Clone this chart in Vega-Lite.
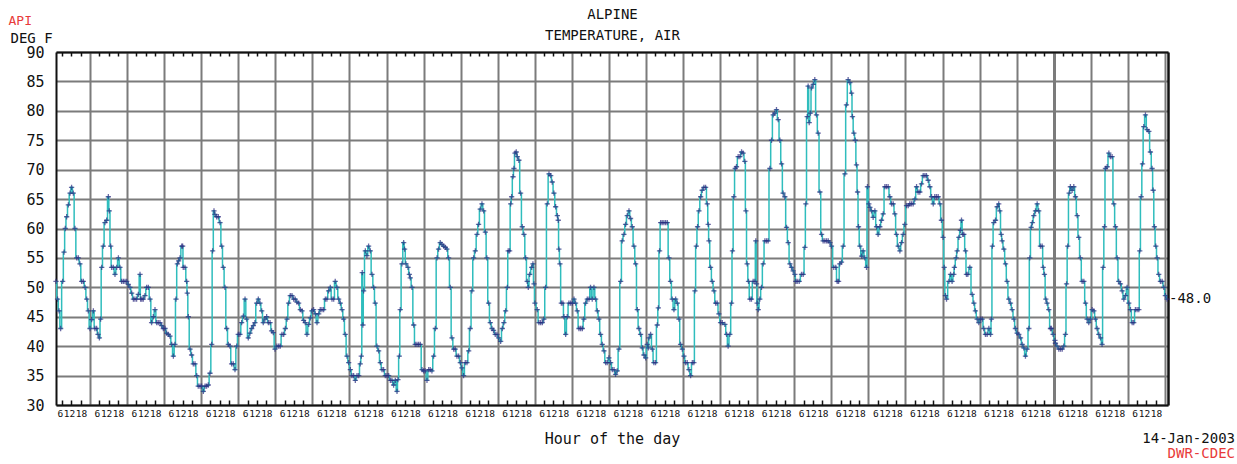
{
  "$schema": "https://vega.github.io/schema/vega-lite/v6.json",
  "width": 1112,
  "height": 353,
  "autosize": {"type": "none"},
  "padding": {"left": 56, "top": 52, "right": 69, "bottom": 59},
  "background": "white",
  "config": {
    "view": {"stroke": null},
    "font": "DejaVu Sans Mono",
    "axis": {"labelFont": "DejaVu Sans Mono", "titleFont": "DejaVu Sans Mono", "titleFontWeight": "normal", "labelColor": "#111111", "titleColor": "#111111"}
  },
  "title": {
    "text": "14-Jan-2003",
    "subtitle": "DWR-CDEC",
    "orient": "bottom",
    "anchor": "end",
    "frame": "group",
    "dx": 67,
    "offset": -15,
    "fontSize": 14,
    "fontWeight": "normal",
    "color": "#111111",
    "subtitleFontSize": 14,
    "subtitleColor": "#e83a3a",
    "subtitlePadding": 1,
    "font": "DejaVu Sans Mono",
    "subtitleFont": "DejaVu Sans Mono",
    "limit": 0
  },
  "data": {
    "values": [
      {"h":2,"t":51},{"h":3,"t":48},{"h":4,"t":46},{"h":5,"t":43},{"h":6.3,"t":51},{"h":7.2,"t":56},{"h":8,"t":60},{"h":8.9,"t":62},{"h":10,"t":64},{"h":11.1,"t":66},{"h":12.1,"t":67},{"h":13.2,"t":66},{"h":14.3,"t":60},{"h":15.4,"t":55},{"h":16.5,"t":55},{"h":17.5,"t":54},{"h":18.6,"t":51},{"h":19.7,"t":51},{"h":20.8,"t":50},{"h":21.9,"t":48},{"h":22.9,"t":46},{"h":24,"t":43},
      {"h":25.1,"t":44.5},{"h":26.2,"t":46},{"h":27.2,"t":43},{"h":28.3,"t":43},{"h":29.2,"t":42},{"h":30.1,"t":41.4},{"h":30.9,"t":44.6},{"h":31.6,"t":53.4},{"h":32.6,"t":57},{"h":33.7,"t":61},{"h":34.8,"t":61.4},{"h":35.9,"t":65.4},{"h":36.5,"t":63},{"h":37.4,"t":57},{"h":38,"t":53.4},{"h":39.1,"t":53.4},{"h":40.2,"t":52.2},{"h":41.3,"t":53.4},{"h":42.4,"t":55},{"h":43.4,"t":53.4},{"h":44.5,"t":51},{"h":45.6,"t":51},{"h":46.7,"t":51},{"h":47.8,"t":51},
      {"h":48.8,"t":50.5},{"h":49.9,"t":50},{"h":51,"t":49},{"h":52.1,"t":48},{"h":53.1,"t":48},{"h":54.2,"t":48},{"h":55.3,"t":48.8},{"h":56.4,"t":52.2},{"h":56.8,"t":48},{"h":57.6,"t":48},{"h":58.5,"t":48},{"h":59.6,"t":48.6},{"h":60.7,"t":50},{"h":61.8,"t":50},{"h":62.9,"t":48},{"h":63.9,"t":44},{"h":65,"t":45},{"h":66.1,"t":46.2},{"h":67.2,"t":44},{"h":68.2,"t":44},{"h":69.3,"t":44},{"h":70.4,"t":43.5},{"h":71.5,"t":43},
      {"h":72.6,"t":43},{"h":73.6,"t":42.2},{"h":74.7,"t":42},{"h":75.8,"t":41.7},{"h":76.9,"t":40.3},{"h":78,"t":38.3},{"h":79,"t":40.3},{"h":79.7,"t":48},{"h":80.6,"t":54},{"h":81.4,"t":54.5},{"h":82.3,"t":55},{"h":83.4,"t":57},{"h":84,"t":57},{"h":84.4,"t":53.4},{"h":85.5,"t":53.4},{"h":86.6,"t":51},{"h":87,"t":49},{"h":87.7,"t":45},{"h":88.8,"t":39.5},{"h":89.8,"t":38.5},{"h":90.9,"t":37},{"h":92,"t":37},{"h":93.1,"t":35},{"h":94.1,"t":33.2},{"h":95.2,"t":33.2},{"h":96.3,"t":33.2},
      {"h":97.4,"t":32.3},{"h":98.5,"t":33.2},{"h":99.5,"t":33.2},{"h":100.6,"t":33.4},{"h":101.7,"t":35.4},{"h":102.8,"t":40.3},{"h":103.4,"t":56.2},{"h":104.3,"t":63},{"h":104.9,"t":62.4},{"h":106,"t":62},{"h":107.1,"t":62},{"h":108.2,"t":61},{"h":109.3,"t":57},{"h":110.3,"t":53.4},{"h":111.4,"t":50},{"h":112.5,"t":43},{"h":113.6,"t":40.3},{"h":114.6,"t":40},{"h":115.7,"t":37},{"h":116.8,"t":37},{"h":117.9,"t":36},{"h":119,"t":40},{"h":120,"t":42},
      {"h":121.1,"t":42},{"h":122.2,"t":44},{"h":123.3,"t":45.1},{"h":124.4,"t":48},{"h":125.4,"t":44.6},{"h":126.5,"t":41.4},{"h":127.6,"t":42.2},{"h":128.7,"t":43},{"h":129.8,"t":43.5},{"h":130.8,"t":44},{"h":131.9,"t":47.3},{"h":133,"t":48},{"h":134.1,"t":47.3},{"h":135.2,"t":46},{"h":136.2,"t":44},{"h":137.3,"t":44.6},{"h":138.4,"t":45},{"h":139.5,"t":44},{"h":140.6,"t":44},{"h":141.6,"t":42.6},{"h":142.7,"t":42.3},{"h":143.8,"t":39.5},
      {"h":145,"t":40},{"h":146.2,"t":40},{"h":147.2,"t":40},{"h":148.3,"t":42},{"h":149.4,"t":42},{"h":150.5,"t":43},{"h":151.6,"t":44.6},{"h":152.6,"t":47.3},{"h":153.7,"t":48.6},{"h":154.8,"t":48.6},{"h":155.9,"t":48},{"h":156.9,"t":48},{"h":158,"t":47.5},{"h":159.1,"t":47.3},{"h":160.2,"t":46.2},{"h":161.3,"t":46},{"h":162.3,"t":44.4},{"h":163.4,"t":44},{"h":164.5,"t":42},{"h":165.6,"t":43.7},{"h":166.7,"t":44.8},{"h":167.7,"t":46},
      {"h":168.8,"t":46.2},{"h":169.9,"t":45.5},{"h":171,"t":44},{"h":172.1,"t":45.5},{"h":173.1,"t":46.2},{"h":174.2,"t":46.2},{"h":175.3,"t":46.2},{"h":176.4,"t":48},{"h":177.4,"t":48},{"h":178.5,"t":49.4},{"h":179.6,"t":50},{"h":180.7,"t":48},{"h":181.8,"t":48},{"h":182.8,"t":51},{"h":183.9,"t":50},{"h":185,"t":48},{"h":186.1,"t":47.3},{"h":187.2,"t":46.2},{"h":188.2,"t":44.6},{"h":189.3,"t":42},{"h":190.4,"t":38.3},{"h":191.5,"t":37.2},{"h":192.6,"t":36},{"h":193.6,"t":35},
      {"h":194.7,"t":35},{"h":195.8,"t":34.2},{"h":196.9,"t":35},{"h":198,"t":35},{"h":199,"t":37},{"h":199.7,"t":38.3},{"h":200.3,"t":52.5},{"h":200.7,"t":43.6},{"h":201.2,"t":49.4},{"h":202.3,"t":56.2},{"h":203.3,"t":55.4},{"h":204.4,"t":57},{"h":205.5,"t":56.2},{"h":206.6,"t":52.2},{"h":207.7,"t":50},{"h":208.7,"t":47.3},{"h":209.8,"t":40},{"h":210.9,"t":39.2},{"h":212,"t":37.2},{"h":213.1,"t":36},{"h":214.1,"t":36},{"h":215.2,"t":35},{"h":216.3,"t":35},{"h":217.4,"t":35},
      {"h":218.5,"t":34.2},{"h":219.5,"t":34.2},{"h":220.6,"t":33.4},{"h":221.7,"t":34.2},{"h":222.8,"t":32.3},{"h":223.4,"t":34.3},{"h":224.3,"t":38.3},{"h":224.9,"t":46.2},{"h":226,"t":54},{"h":227.1,"t":57.6},{"h":227.7,"t":56.5},{"h":228.6,"t":54},{"h":229.9,"t":53.4},{"h":230.8,"t":52.2},{"h":231.4,"t":51.6},{"h":232.5,"t":50},{"h":233.6,"t":43.6},{"h":234.6,"t":40.3},{"h":235.7,"t":40.3},{"h":236.8,"t":40.3},{"h":237.9,"t":40.3},{"h":239,"t":36},{"h":240,"t":35.8},{"h":241.1,"t":35.8},
      {"h":242.2,"t":34.2},{"h":243.3,"t":36},{"h":244.3,"t":36},{"h":245.4,"t":35.8},{"h":246.5,"t":38.3},{"h":247.6,"t":43},{"h":248.7,"t":55},{"h":249.7,"t":56.5},{"h":250.8,"t":57.6},{"h":251.9,"t":57.3},{"h":253,"t":57},{"h":254.1,"t":56.8},{"h":255.1,"t":56.5},{"h":256.2,"t":55},{"h":257.3,"t":50},{"h":258.4,"t":41.4},{"h":259.5,"t":39.5},{"h":260.5,"t":39.5},{"h":261.6,"t":38.3},{"h":262.7,"t":38.3},{"h":263.8,"t":37.2},{"h":264.8,"t":36.3},
      {"h":265.9,"t":35},{"h":267,"t":37.2},{"h":268.1,"t":37.2},{"h":269.2,"t":39.2},{"h":270.2,"t":43},{"h":271.3,"t":49.4},{"h":272.4,"t":55},{"h":273.5,"t":56.2},{"h":274.6,"t":59},{"h":275.6,"t":60.7},{"h":276.7,"t":63.3},{"h":277.8,"t":64.2},{"h":278.9,"t":63},{"h":280,"t":59.4},{"h":281,"t":55},{"h":282.1,"t":47.3},{"h":283.2,"t":44},{"h":284.3,"t":43},{"h":285.3,"t":42.7},{"h":286.4,"t":42},{"h":287.5,"t":42},{"h":288.6,"t":41.4},
      {"h":289.9,"t":40.8},{"h":291,"t":43},{"h":292,"t":44},{"h":293.1,"t":46},{"h":294.2,"t":50},{"h":294.8,"t":56.2},{"h":295.7,"t":56.2},{"h":296.4,"t":64.2},{"h":297,"t":65.4},{"h":297.9,"t":68.8},{"h":298.5,"t":70.2},{"h":299.2,"t":72.8},{"h":300,"t":73},{"h":300.7,"t":72.2},{"h":301.7,"t":71.6},{"h":302.8,"t":66},{"h":303.9,"t":60.3},{"h":305,"t":59},{"h":306.1,"t":55},{"h":307.1,"t":51},{"h":307.8,"t":50},{"h":308.7,"t":52.2},{"h":310,"t":53.4},{"h":310.8,"t":54},{"h":311.5,"t":50.6},{"h":312.1,"t":47.3},
      {"h":313.6,"t":46.2},{"h":314.7,"t":44},{"h":315.8,"t":44},{"h":316.9,"t":44},{"h":317.9,"t":44.6},{"h":319,"t":50},{"h":320.1,"t":64.2},{"h":321.2,"t":69.3},{"h":322.3,"t":69},{"h":323.3,"t":67.9},{"h":324.4,"t":66},{"h":325.5,"t":63.7},{"h":326.6,"t":62.2},{"h":327.2,"t":61.4},{"h":327.6,"t":56.5},{"h":328.3,"t":54},{"h":329.2,"t":47.3},{"h":330.2,"t":47.3},{"h":330.9,"t":45},{"h":332,"t":42},{"h":333,"t":45},{"h":334.1,"t":47.3},{"h":335.2,"t":47.3},{"h":336.3,"t":47.3},
      {"h":337.4,"t":48},{"h":338.4,"t":47.3},{"h":339.5,"t":46},{"h":340.6,"t":43},{"h":341.7,"t":43},{"h":342.8,"t":43},{"h":343.8,"t":44.6},{"h":344.9,"t":47.3},{"h":346,"t":48},{"h":347.1,"t":48},{"h":348.1,"t":50},{"h":349.2,"t":48},{"h":350.3,"t":50},{"h":351.4,"t":48},{"h":352.5,"t":46},{"h":353.5,"t":44.6},{"h":354.6,"t":42},{"h":355.7,"t":40.3},{"h":356.8,"t":39.2},{"h":357.9,"t":37.2},{"h":358.9,"t":37.2},{"h":360,"t":38},
      {"h":361.1,"t":37.2},{"h":362.2,"t":36},{"h":363.3,"t":36},{"h":364.3,"t":35.2},{"h":365.4,"t":35.8},{"h":366.5,"t":39.5},{"h":367.6,"t":51},{"h":368.6,"t":57.9},{"h":369.7,"t":59},{"h":370.8,"t":60.7},{"h":371.9,"t":62.2},{"h":373,"t":63},{"h":374,"t":61.7},{"h":375.1,"t":60.3},{"h":376.2,"t":57},{"h":377.3,"t":54},{"h":378.4,"t":46.2},{"h":379.4,"t":43},{"h":380.5,"t":42},{"h":381.6,"t":39.7},{"h":382.7,"t":38.5},{"h":383.8,"t":38},{"h":384.8,"t":40.3},{"h":385.5,"t":39.7},
      {"h":385.9,"t":41.4},{"h":387,"t":42},{"h":388.1,"t":39.5},{"h":389.1,"t":37.2},{"h":390.2,"t":37.2},{"h":391.3,"t":43.6},{"h":392,"t":46.5},{"h":392.8,"t":56.2},{"h":393.5,"t":61},{"h":394.5,"t":61},{"h":395.6,"t":61},{"h":396.7,"t":61},{"h":397.8,"t":61},{"h":398.9,"t":55},{"h":399.9,"t":51},{"h":401,"t":48},{"h":402.1,"t":46.2},{"h":403.2,"t":48},{"h":404.3,"t":47.3},{"h":405.3,"t":44.6},{"h":406.4,"t":40.3},{"h":407.5,"t":39.5},{"h":408.6,"t":38.3},{"h":409.6,"t":37.2},
      {"h":410.7,"t":37.2},{"h":411.8,"t":36},{"h":412.9,"t":35},{"h":414,"t":37.2},{"h":415,"t":37.2},{"h":415.7,"t":49.4},{"h":416.6,"t":57},{"h":417.4,"t":60.3},{"h":418.3,"t":63},{"h":419.4,"t":65.4},{"h":420.4,"t":66.5},{"h":421.5,"t":67},{"h":422.6,"t":67},{"h":423.7,"t":64.2},{"h":424.3,"t":60.7},{"h":424.8,"t":57.9},{"h":425.8,"t":53.4},{"h":426.9,"t":51},{"h":428,"t":49.4},{"h":429.1,"t":47.3},{"h":430.1,"t":47.3},{"h":431.2,"t":45.5},{"h":432.3,"t":44},{"h":433.4,"t":44},
      {"h":435.1,"t":43.7},{"h":436.2,"t":42},{"h":437.2,"t":40},{"h":438.3,"t":42},{"h":439.4,"t":47.3},{"h":440,"t":56.2},{"h":440.9,"t":65.4},{"h":441.8,"t":70.2},{"h":442.6,"t":70.5},{"h":443.7,"t":72.2},{"h":444.8,"t":72.2},{"h":445.9,"t":73},{"h":446.9,"t":72.8},{"h":448,"t":71.4},{"h":448.7,"t":63},{"h":449.5,"t":54},{"h":450.4,"t":51},{"h":451.3,"t":48},{"h":452.3,"t":48},{"h":453.4,"t":51},{"h":454.5,"t":51},{"h":455.1,"t":57.9},{"h":455.6,"t":50.6},{"h":456,"t":47.3},
      {"h":456.7,"t":46.2},{"h":457.7,"t":48},{"h":458.8,"t":50},{"h":459.9,"t":54},{"h":461,"t":57.9},{"h":462.1,"t":57.9},{"h":463.1,"t":57.9},{"h":464.2,"t":70.2},{"h":465.3,"t":75},{"h":466.4,"t":79.3},{"h":467.4,"t":79.6},{"h":468.5,"t":80.2},{"h":469.6,"t":78.5},{"h":470.7,"t":75},{"h":471.8,"t":71},{"h":472.8,"t":66},{"h":473.9,"t":65.4},{"h":475,"t":60.2},{"h":476.1,"t":57.6},{"h":477.2,"t":54},{"h":478.2,"t":53.4},{"h":479.3,"t":52.8},{"h":480.4,"t":52.2},{"h":481,"t":51},
      {"h":481.9,"t":51},{"h":483.2,"t":51},{"h":484.7,"t":52.2},{"h":485.8,"t":52.2},{"h":486.9,"t":56.8},{"h":487.5,"t":64.2},{"h":488.4,"t":79},{"h":489,"t":84.2},{"h":489.7,"t":78},{"h":490.5,"t":79.6},{"h":491.2,"t":83.9},{"h":492.3,"t":84.5},{"h":493.3,"t":85.3},{"h":494.4,"t":79.3},{"h":495.5,"t":76.2},{"h":496.6,"t":66.2},{"h":497.7,"t":59},{"h":498.7,"t":57.9},{"h":499.8,"t":57.9},{"h":500.9,"t":57.9},{"h":502,"t":57.9},{"h":503.1,"t":57.6},{"h":504.1,"t":57},
      {"h":505.6,"t":53.4},{"h":506.9,"t":53.4},{"h":507.8,"t":51},{"h":508.7,"t":51},{"h":509.5,"t":54},{"h":510.6,"t":54.3},{"h":511.7,"t":57},{"h":512.8,"t":69.3},{"h":513.8,"t":81},{"h":514.9,"t":85.3},{"h":516,"t":84.8},{"h":517.1,"t":83},{"h":517.7,"t":79},{"h":518.6,"t":76.2},{"h":519.5,"t":75},{"h":520.3,"t":70.8},{"h":521,"t":66.2},{"h":521.6,"t":60.3},{"h":522.5,"t":57},{"h":523.6,"t":55.3},{"h":524.6,"t":56.2},{"h":525.7,"t":55},{"h":526.8,"t":53.4},{"h":527.4,"t":67.1},{"h":528.3,"t":64.2},{"h":529,"t":63.6},
      {"h":530,"t":63},{"h":531.1,"t":61.9},{"h":532.2,"t":63},{"h":533.3,"t":60.3},{"h":534.3,"t":59},{"h":535.4,"t":60.3},{"h":536.5,"t":61.4},{"h":537.6,"t":62.5},{"h":538.7,"t":67.1},{"h":539.7,"t":67.1},{"h":540.8,"t":67.1},{"h":541.9,"t":65.4},{"h":543,"t":64.2},{"h":544.1,"t":64.2},{"h":545.1,"t":62.5},{"h":546.2,"t":59},{"h":547.3,"t":57},{"h":548.4,"t":56.2},{"h":549.5,"t":57.6},{"h":550.5,"t":59},{"h":551.6,"t":60.7},{"h":552.7,"t":63.9},
      {"h":553.8,"t":63.9},{"h":554.8,"t":64.2},{"h":555.9,"t":64.2},{"h":557,"t":64.2},{"h":558.1,"t":65},{"h":559.2,"t":67.1},{"h":560.2,"t":66.2},{"h":561.3,"t":66.2},{"h":562.4,"t":67.6},{"h":563.5,"t":69},{"h":564.6,"t":69},{"h":565.6,"t":69},{"h":566.7,"t":68.2},{"h":567.8,"t":67.1},{"h":568.9,"t":65.4},{"h":570,"t":64.2},{"h":571,"t":65.4},{"h":572.1,"t":65.4},{"h":573.2,"t":65.4},{"h":574.3,"t":64.2},{"h":575.3,"t":61.4},{"h":576.4,"t":58.5},{"h":577.1,"t":53.4},{"h":577.9,"t":48.6},{"h":578.6,"t":48},
      {"h":580.1,"t":51},{"h":581.2,"t":52.2},{"h":582.2,"t":51},{"h":583.3,"t":52.2},{"h":583.7,"t":53.4},{"h":584.8,"t":55},{"h":585.5,"t":56.2},{"h":586.6,"t":58.5},{"h":587.6,"t":59.7},{"h":588.3,"t":61.4},{"h":589.1,"t":59},{"h":589.8,"t":59},{"h":590.9,"t":56.2},{"h":591.5,"t":52.2},{"h":592.4,"t":52.2},{"h":593.7,"t":53.4},{"h":595.2,"t":48.8},{"h":596.3,"t":47.3},{"h":597.3,"t":46},{"h":598.4,"t":44.6},{"h":599.5,"t":44},{"h":600.6,"t":44.6},
      {"h":601.7,"t":44.6},{"h":602.7,"t":43},{"h":603.8,"t":42},{"h":604.9,"t":42},{"h":606,"t":43},{"h":607.1,"t":42},{"h":607.7,"t":44.6},{"h":608.3,"t":57},{"h":609.2,"t":61},{"h":610.3,"t":61.4},{"h":611.4,"t":63.7},{"h":612.4,"t":64.2},{"h":613.1,"t":63},{"h":614,"t":59},{"h":614.6,"t":57.9},{"h":615.7,"t":56.5},{"h":616.8,"t":54},{"h":617.8,"t":51},{"h":618.9,"t":48},{"h":620,"t":47.3},{"h":621.1,"t":46.2},{"h":622.2,"t":44.6},{"h":623.2,"t":43},{"h":624.3,"t":42.2},
      {"h":625.4,"t":42},{"h":626.5,"t":41.4},{"h":627.6,"t":40.3},{"h":628.6,"t":39.7},{"h":629.7,"t":38.3},{"h":630.8,"t":39.5},{"h":631.9,"t":43},{"h":632.5,"t":55},{"h":633.4,"t":60.2},{"h":634.2,"t":61},{"h":635.1,"t":62.2},{"h":636.2,"t":63},{"h":637.3,"t":64.2},{"h":638.3,"t":63},{"h":639.4,"t":57},{"h":640.5,"t":57},{"h":641.2,"t":53.4},{"h":642,"t":52.2},{"h":642.9,"t":48},{"h":643.7,"t":47.3},{"h":644.8,"t":46.2},{"h":645.9,"t":43},{"h":646.5,"t":43},{"h":647.6,"t":42},{"h":648.8,"t":41},{"h":649.1,"t":40.5},
      {"h":650.2,"t":40},{"h":651.3,"t":39.5},{"h":652.4,"t":39.5},{"h":653.5,"t":39.5},{"h":654.5,"t":40},{"h":655.6,"t":42},{"h":656.3,"t":50.6},{"h":657.1,"t":57},{"h":658,"t":66},{"h":658.8,"t":67.1},{"h":659.9,"t":66.5},{"h":661,"t":67.1},{"h":662.1,"t":65.4},{"h":663.2,"t":62.2},{"h":664.2,"t":58.5},{"h":665.3,"t":55},{"h":666.4,"t":51},{"h":667.5,"t":51},{"h":668.6,"t":47.3},{"h":669.6,"t":44.6},{"h":670.7,"t":44},{"h":671.8,"t":44.6},{"h":672.9,"t":46.2},
      {"h":674,"t":46},{"h":675,"t":44.6},{"h":676.1,"t":43},{"h":677.2,"t":42},{"h":678.3,"t":41.4},{"h":679.3,"t":40.3},{"h":680,"t":53.4},{"h":680.9,"t":60.3},{"h":681.5,"t":70.2},{"h":682.6,"t":70.5},{"h":683.7,"t":72.8},{"h":684.7,"t":72.2},{"h":685.8,"t":72.2},{"h":686.9,"t":64.2},{"h":688,"t":60.3},{"h":689.1,"t":55},{"h":690.1,"t":51},{"h":691.2,"t":50.6},{"h":692.3,"t":49.4},{"h":693.4,"t":48},{"h":694.5,"t":48.6},{"h":695.5,"t":50},{"h":696.6,"t":47.3},
      {"h":697.7,"t":46.2},{"h":698.8,"t":44},{"h":699.8,"t":44},{"h":700.9,"t":46.2},{"h":702,"t":46.2},{"h":703.1,"t":46.2},{"h":703.7,"t":56.2},{"h":704.6,"t":65.4},{"h":705.5,"t":71},{"h":706.3,"t":77.3},{"h":707.4,"t":79.3},{"h":708.5,"t":76.8},{"h":709.6,"t":76.5},{"h":710.6,"t":73},{"h":711.7,"t":70.2},{"h":712.4,"t":66.5},{"h":713.2,"t":60.3},{"h":714.1,"t":57},{"h":715,"t":55},{"h":716,"t":52.2},{"h":717.1,"t":51},{"h":718.2,"t":51},{"h":719.3,"t":50},{"h":720.3,"t":48.6},{"h":721.4,"t":48}
    ]
  },
  "layer": [
    {
      "mark": {"type": "line", "interpolate": "step", "color": "#2fbdbd", "strokeWidth": 1.5},
      "encoding": {
        "x": {
          "field": "h", "type": "quantitative",
          "scale": {"domain": [2, 722], "nice": false, "zero": false},
          "axis": {
            "orient": "bottom",
            "values": [6,12,18,24,30,36,42,48,54,60,66,72,78,84,90,96,102,108,114,120,126,132,138,144,150,156,162,168,174,180,186,192,198,204,210,216,222,228,234,240,246,252,258,264,270,276,282,288,294,300,306,312,318,324,330,336,342,348,354,360,366,372,378,384,390,396,402,408,414,420,426,432,438,444,450,456,462,468,474,480,486,492,498,504,510,516,522,528,534,540,546,552,558,564,570,576,582,588,594,600,606,612,618,624,630,636,642,648,654,660,666,672,678,684,690,696,702,708,714,720],
            "labelExpr": "datum.value % 24 === 0 ? '' : '' + (datum.value % 24)",
            "labelOverlap": false,
            "labelFontSize": 9.5,
            "labelPadding": 8,
            "labelBaseline": "top",
            "labelAlign": "center",
            "labelOffset": {"condition": {"test": "datum.value % 24 === 18", "value": 0.3}, "value": -2.4},
            "tickSize": -5,
            "tickWidth": 1.5,
            "tickColor": {"condition": {"test": "datum.value % 24 === 0", "value": "transparent"}, "value": "#111111"},
            "grid": true,
            "gridColor": {"condition": {"test": "datum.value % 24 === 0", "value": "#7b7b7b"}, "value": "transparent"},
            "gridWidth": {"condition": {"test": "datum.value === 648", "value": 3}, "value": 2},
            "domainColor": "#111111",
            "domainWidth": 2,
            "title": "Hour of the day",
            "titleFontSize": 15,
            "titlePadding": 14
          }
        },
        "y": {
          "field": "t", "type": "quantitative",
          "scale": {"domain": [30, 90], "nice": false, "zero": false},
          "axis": {
            "orient": "left",
            "values": [30,35,40,45,50,55,60,65,70,75,80,85,90],
            "ticks": false,
            "labelFontSize": 15,
            "labelPadding": 12,
            "grid": true,
            "gridColor": "#7b7b7b",
            "gridWidth": 2,
            "domainColor": "#111111",
            "domainWidth": 2,
            "title": "DEG F",
            "titleFontSize": 14,
            "titleAngle": 0,
            "titleAlign": "left",
            "titleBaseline": "alphabetic",
            "titleX": -46,
            "titleY": -10
          }
        }
      }
    },
    {
      "mark": {"type": "point", "shape": "M-1,0H1M0,-1V1", "filled": false, "stroke": "#2d2a80", "strokeWidth": 1.3, "size": 28},
      "encoding": {
        "x": {
          "field": "h", "type": "quantitative",
          "axis": {
            "orient": "top",
            "values": [6,12,18,24,30,36,42,48,54,60,66,72,78,84,90,96,102,108,114,120,126,132,138,144,150,156,162,168,174,180,186,192,198,204,210,216,222,228,234,240,246,252,258,264,270,276,282,288,294,300,306,312,318,324,330,336,342,348,354,360,366,372,378,384,390,396,402,408,414,420,426,432,438,444,450,456,462,468,474,480,486,492,498,504,510,516,522,528,534,540,546,552,558,564,570,576,582,588,594,600,606,612,618,624,630,636,642,648,654,660,666,672,678,684,690,696,702,708,714,720],
            "labels": false,
            "grid": false,
            "tickSize": -4,
            "tickWidth": 1.5,
            "tickColor": {"condition": {"test": "datum.value % 24 === 0", "value": "transparent"}, "value": "#111111"},
            "domainColor": "#111111",
            "domainWidth": 2,
            "title": ["ALPINE", "TEMPERATURE, AIR"],
            "titleFontSize": 14,
            "titleLineHeight": 21,
            "titlePadding": 9
          }
        },
        "y": {
          "field": "t", "type": "quantitative",
          "axis": {
            "orient": "right",
            "labels": false,
            "ticks": false,
            "grid": false,
            "domainColor": "#111111",
            "domainWidth": 2.5,
            "title": "API",
            "titleColor": "#e83a3a",
            "titleFontSize": 13,
            "titleAngle": 0,
            "titleAlign": "left",
            "titleBaseline": "alphabetic",
            "titleX": -1160,
            "titleY": -28
          }
        }
      }
    },
    {
      "transform": [
        {"filter": "datum.h > 721"},
        {"calculate": "'-' + format(datum.t, '.1f')", "as": "label"}
      ],
      "mark": {"type": "text", "align": "left", "baseline": "middle", "dx": 1, "fontSize": 14, "font": "DejaVu Sans Mono", "color": "#111111"},
      "encoding": {
        "x": {"datum": 722, "type": "quantitative", "axis": null},
        "y": {"field": "t", "type": "quantitative", "axis": null},
        "text": {"field": "label"}
      }
    }
  ],
  "resolve": {"axis": {"x": "independent", "y": "independent"}}
}
